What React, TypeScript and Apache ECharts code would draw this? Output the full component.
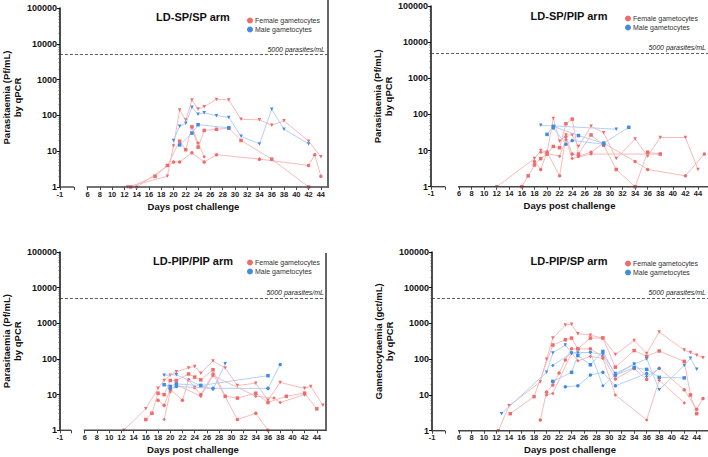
import React, { useEffect, useRef } from "react";
import * as echarts from "echarts";

type Pt = [number, number];

// ---------- data (days post challenge, gametocytes/mL) ----------
const xTickDays = [6, 8, 10, 12, 14, 16, 18, 20, 22, 24, 26, 28, 30, 32, 34, 36, 38, 40, 42, 44];
const xBreakLabel = "-1";
const threshold = 5000;
const thresholdLabel = "5000 parasites/mL";
const legendNames = ["Female gametocytes", "Male gametocytes"];
const panelTitles = ["LD-SP/SP arm", "LD-SP/PIP arm", "LD-PIP/PIP arm", "LD-PIP/SP arm"];
const yAxisNames = [
  "Parasitaemia (Pf/mL)\nby qPCR",
  "Parasitaemia (Pf/mL)\nby qPCR",
  "Parasitaemia (Pf/mL)\nby qPCR",
  "Gametocytaemia (gct/mL)\nby qPCR",
];
const xAxisName = "Days post challenge";

const spSpFemale: Pt[][] = [
  [[12.5, 1], [19, 2], [20, 14], [21, 141], [22, 74], [23, 270], [24, 150], [25, 175], [27, 280], [29, 270], [31, 78], [34, 75], [36, 53], [38, 71], [42, 19], [44, 7]],
  [[13, 1], [17, 2], [19, 4], [21, 19], [22, 11], [23, 48], [24, 13], [25, 38], [27, 41], [29, 44], [31, 20], [36, 6], [42, 1]],
  [[14, 1], [20, 5], [21, 5], [23, 9], [25, 5], [27, 8], [34, 6], [42, 4], [43, 8], [44, 2]],
  [[23, 48], [24, 17], [25, 7]],
];
const spSpMale: Pt[][] = [
  [[20, 20], [21, 50], [22, 60], [23, 170], [24, 107], [25, 118], [27, 98], [29, 88], [31, 26], [34, 16], [36, 148], [38, 41], [42, 16]],
  [[21, 15], [23, 32], [24, 55], [29, 45]],
];

const spPipFemale: Pt[][] = [
  [[12, 1], [18, 6], [19, 10], [20, 9], [21, 77], [22, 18], [23, 27], [24, 27], [25, 13], [27, 47], [29, 31], [31, 6], [34, 21], [36, 7], [38, 23], [42, 23], [44, 3]],
  [[16, 1], [17, 2], [18, 4], [19, 6], [20, 8], [21, 13], [22, 12], [23, 55], [24, 74], [25, 8], [27, 27], [29, 14], [31, 3], [34, 1], [36, 9], [38, 8]],
  [[18, 5], [19, 3], [20, 9], [22, 2], [23, 24], [24, 8], [25, 7], [27, 9], [29, 16], [34, 5], [36, 3], [42, 2], [45, 8]],
  [[19, 9], [22, 7], [23, 20], [24, 6], [27, 8], [38, 8]],
];
const spPipMale: Pt[][] = [
  [[19, 50], [31, 39]],
  [[20, 28], [21, 47], [25, 26], [29, 16], [33, 44]],
  [[21, 42], [23, 15], [24, 19], [29, 15]],
];

const pipPipFemale: Pt[][] = [
  [[12.4, 1], [16, 4], [18, 15], [19, 25], [20, 35], [21, 44], [23, 56], [24, 62], [25, 40], [27, 88], [29, 56], [31, 18], [34, 21], [36, 7], [38, 22], [42, 15], [43, 17], [45, 5]],
  [[16, 2], [17, 3], [18, 11], [19, 10], [20, 25], [21, 25], [23, 38], [24, 31], [25, 26], [27, 50], [29, 9], [31, 8], [34, 11], [36, 6], [39, 9], [42, 11], [44, 4]],
  [[18, 7], [19, 5], [20, 14], [22, 7], [23, 26], [24, 16], [25, 10], [27, 38], [31, 2], [34, 3], [36, 1]],
  [[19, 2], [20, 12], [21, 19], [25, 9], [27, 34], [34, 9], [37, 8], [38, 6], [42, 10]],
];
const pipPipMale: Pt[][] = [
  [[19, 35], [21, 36], [25, 18], [27, 14], [29, 73]],
  [[19, 19], [20, 17], [21, 20], [25, 18], [36, 34]],
  [[20, 15], [21, 17], [27, 15], [36, 15], [38, 70]],
];

const pipSpFemale: Pt[][] = [
  [[12.3, 1], [14, 5], [19, 23], [20, 100], [21, 390], [23, 900], [24, 950], [25, 520], [27, 470], [29, 390], [31, 135], [34, 335], [36, 145], [38, 580], [42, 180], [43, 155], [44, 130], [45, 110]],
  [[14.2, 3], [18, 9], [21, 250], [23, 350], [24, 390], [25, 195], [27, 390], [29, 390], [31, 60], [34, 175], [36, 120], [38, 170], [42, 87], [43, 10], [44, 3]],
  [[19, 2], [20, 12], [21, 19], [22, 41], [23, 95], [24, 195], [25, 195], [27, 195], [29, 120], [31, 28], [34, 55], [36, 27], [38, 56], [42, 14], [44, 4], [45, 8]],
  [[20, 10], [21, 11], [24, 150], [25, 90], [27, 120], [29, 105], [31, 10], [36, 2], [38, 26], [42, 6]],
];
const pipSpMale: Pt[][] = [
  [[12.8, 3], [20, 43], [21, 150], [23, 250], [24, 150], [25, 150], [27, 155], [29, 135], [31, 40], [34, 73], [36, 102], [38, 14], [42, 67], [43, 106], [44, 52]],
  [[21, 24], [24, 43], [25, 127], [27, 70], [29, 165], [31, 36], [34, 58], [36, 52], [38, 31], [42, 30]],
  [[23, 17], [25, 18], [27, 36], [29, 43], [31, 18], [36, 40]],
  [[21, 67], [24, 150], [27, 155], [29, 18], [31, 36], [34, 73], [36, 33], [38, 55]],
];

const femaleData = [spSpFemale, spPipFemale, pipPipFemale, pipSpFemale];
const maleData = [spSpMale, spPipMale, pipPipMale, pipSpMale];

// ---------- layout / style ----------
const FONT = "'Liberation Sans', Arial, Helvetica, sans-serif";
const FEM_MARK = "#F06C6C";
const FEM_LINE = "#F7B3B3";
const MALE_MARK = "#3F8BE6";
const MALE_LINE = "#AECBF0";
const SEG_END = 3.8;
const SEG_START = 5.85;

const layouts = [
  { left: 58, top: 8, width: 269, height: 179, xMin: 1.5, xMax: 45, legend: [247, 17], title: [193, 17] },
  { left: 431, top: 6, width: 277, height: 180.7, xMin: 1.55, xMax: 45.59, legend: [625, 15], title: [569, 16] },
  { left: 58, top: 252, width: 268, height: 178.3, xMin: 1.94, xMax: 45.5, legend: [247, 259], title: [193, 261] },
  { left: 432, top: 252, width: 276, height: 178.7, xMin: 1.69, xMax: 45.8, legend: [625, 260], title: [569, 261] },
];

const symbols: { symbol: string; rotate: number }[] = [
  { symbol: "triangle", rotate: 180 },
  { symbol: "rect", rotate: 0 },
  { symbol: "circle", rotate: 0 },
  { symbol: "diamond", rotate: 0 },
];

function buildOption() {
  const series: any[] = [];
  layouts.forEach((L, i) => {
    // broken x-axis line
    [[L.xMin, SEG_END], [SEG_START, L.xMax]].forEach((seg) => {
      series.push({
        type: "line",
        xAxisIndex: i,
        yAxisIndex: i,
        data: [[seg[0], 1], [seg[1], 1]],
        symbol: "none",
        silent: true,
        clip: false,
        z: 6,
        lineStyle: { color: "#444", width: 1.4 },
      });
    });
    maleData[i].forEach((line, j) => {
      const s = symbols[j % symbols.length];
      series.push({
        type: "line",
        name: legendNames[1],
        xAxisIndex: i,
        yAxisIndex: i,
        data: line,
        symbol: s.symbol,
        symbolRotate: s.rotate,
        symbolSize: 3.5,
        clip: false,
        z: 3,
        lineStyle: { color: MALE_LINE, width: 0.9 },
        itemStyle: { color: MALE_MARK },
      });
    });
    femaleData[i].forEach((line, j) => {
      const s = symbols[j % symbols.length];
      const ser: any = {
        type: "line",
        name: legendNames[0],
        xAxisIndex: i,
        yAxisIndex: i,
        data: line,
        symbol: s.symbol,
        symbolRotate: s.rotate,
        symbolSize: 3.5,
        clip: false,
        z: 2,
        lineStyle: { color: FEM_LINE, width: 0.9 },
        itemStyle: { color: FEM_MARK },
      };
      if (j === 0) {
        ser.markLine = {
          silent: true,
          symbol: ["none", "none"],
          data: [{ yAxis: threshold }],
          lineStyle: { type: [3, 2], color: "#333", width: 0.8 },
          label: {
            show: true,
            position: "insideEndTop",
            formatter: thresholdLabel,
            fontSize: 7,
            fontStyle: "italic",
            color: "#222",
            fontFamily: FONT,
            distance: 2,
          },
        };
      }
      series.push(ser);
    });
  });

  return {
    animation: false,
    backgroundColor: "#ffffff",
    textStyle: { fontFamily: FONT },
    grid: layouts.map((L) => ({ left: L.left, top: L.top, width: L.width, height: L.height, containLabel: false })),
    xAxis: layouts.map((L, i) => ({
      gridIndex: i,
      type: "value",
      min: L.xMin,
      max: L.xMax,
      axisLine: { show: false },
      splitLine: { show: false },
      axisTick: {
        show: true,
        customValues: [L.xMin, SEG_END, ...xTickDays],
        length: 3,
        lineStyle: { color: "#444", width: 1 },
      },
      axisLabel: {
        customValues: [L.xMin, ...xTickDays],
        formatter: (v: number) => (v < 5 ? xBreakLabel : String(v)),
        fontSize: 7.5,
        fontWeight: "bold",
        color: "#222",
        margin: 3,
        fontFamily: FONT,
      },
      name: xAxisName,
      nameLocation: "middle",
      nameGap: 14,
      nameTextStyle: { fontSize: 9.5, fontWeight: "bold", color: "#111", fontFamily: FONT },
    })),
    yAxis: layouts.map((L, i) => ({
      gridIndex: i,
      type: "log",
      logBase: 10,
      min: 1,
      max: 100000,
      axisLine: { show: true, lineStyle: { color: "#111", width: 1.5 } },
      axisTick: { show: true, length: 3, lineStyle: { color: "#111", width: 1 } },
      minorTick: { show: true, splitNumber: 9, length: 1.5, lineStyle: { color: "#444", width: 0.6 } },
      splitLine: { show: false },
      axisLabel: {
        formatter: (v: number) => String(Math.round(v)),
        fontSize: 9,
        fontWeight: "bold",
        color: "#111",
        margin: 3,
        fontFamily: FONT,
      },
      name: yAxisNames[i],
      nameLocation: "middle",
      nameGap: 34,
      nameTextStyle: { fontSize: 9.5, fontWeight: "bold", color: "#111", lineHeight: 11, fontFamily: FONT },
    })),
    legend: layouts.map((L) => ({
      orient: "vertical",
      left: L.legend[0],
      top: L.legend[1],
      itemWidth: 6,
      itemHeight: 6,
      itemGap: 2,
      padding: 0,
      icon: "circle",
      selectedMode: false,
      textStyle: { fontSize: 7, color: "#333", fontFamily: FONT, padding: [0, 0, 0, -3] },
      data: [
        { name: legendNames[0], itemStyle: { color: FEM_MARK } },
        { name: legendNames[1], itemStyle: { color: MALE_MARK } },
      ],
    })),
    graphic: [
      ...layouts.map((L, i) => ({
        type: "text",
        x: L.title[0],
        y: L.title[1],
        style: {
          text: panelTitles[i],
          fontSize: 11,
          fontWeight: "bold",
          fill: "#111",
          fontFamily: FONT,
          textAlign: "center",
          textVerticalAlign: "middle",
        },
      })),
      { type: "line", shape: { x1: 328, y1: 0, x2: 328, y2: 188 }, style: { stroke: "#333", lineWidth: 1.5 } },
      { type: "line", shape: { x1: 326, y1: 253, x2: 326, y2: 431 }, style: { stroke: "#333", lineWidth: 1.5 } },
    ],
    series,
  };
}

export default function App() {
  const ref = useRef<HTMLDivElement>(null);
  useEffect(() => {
    if (!ref.current) return;
    const chart = echarts.init(ref.current, undefined, { renderer: "svg" });
    chart.setOption(buildOption() as any);
    return () => chart.dispose();
  }, []);
  return (
    <div
      ref={ref}
      style={{ position: "fixed", left: 0, top: 0, width: 708, height: 457, background: "#fff" }}
    />
  );
}
